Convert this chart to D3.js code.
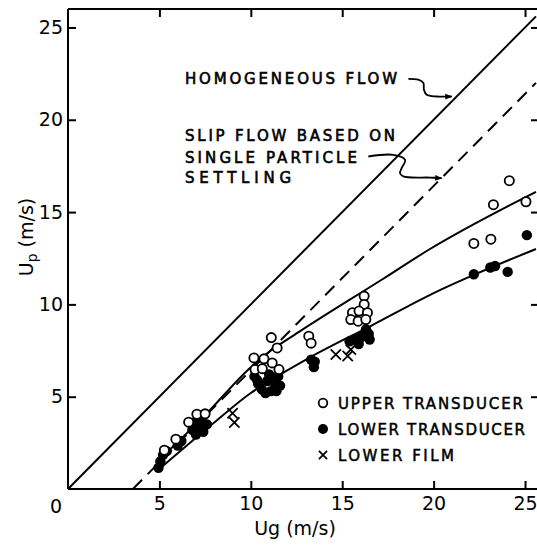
<!DOCTYPE html>
<html>
<head>
<meta charset="utf-8">
<script src="https://cdn.jsdelivr.net/npm/d3@7"></script>
<style>
  body { margin: 0; background: #fff; }
  text { font-family: "DejaVu Sans", sans-serif; fill: #000; }
</style>
</head>
<body>
<div id="chart"></div>
<script>
// ------------ values
var xTicks = [5, 10, 15, 20, 25];
var yTicks = [5, 10, 15, 20, 25];

// open circles
var upperUg = [5.27, 5.9, 6.6, 7.05, 7.5, 10.17, 10.72, 10.23, 10.63, 11.17, 11.54, 11.12, 11.44,
               13.17, 13.3, 16.2, 16.2, 15.56, 15.92, 16.38, 15.47, 15.87, 16.29,
               22.2, 23.13, 23.27, 24.14, 25.05];
var upperUp = [2.1, 2.7, 3.62, 4.05, 4.07, 7.1, 7.05, 6.47, 6.52, 6.83, 6.47, 8.2, 7.64,
               8.28, 7.9, 10.45, 10.0, 9.55, 9.64, 9.55, 9.18, 9.09, 9.18,
               13.3, 13.53, 15.4, 16.7, 15.56];

// filled circles
var lowerUg = [4.95, 5.05, 5.2, 5.4, 6.0, 6.2, 6.8, 7.0, 7.2, 7.4, 7.6, 7.3, 6.9,
               10.2, 10.4, 10.6, 10.9, 11.1, 11.3, 11.5, 10.8, 11.6, 10.35, 11.0, 11.4,
               13.3, 13.45, 13.5, 15.4, 15.7, 16.0, 16.2, 16.45, 16.3, 15.9, 16.5,
               22.2, 23.1, 23.36, 24.05, 25.1];
var lowerUp = [1.15, 1.5, 1.85, 2.05, 2.35, 2.6, 3.2, 2.95, 3.4, 3.1, 3.5, 3.75, 3.6,
               6.1, 5.7, 5.4, 5.85, 5.3, 5.75, 6.1, 5.2, 5.6, 5.9, 6.2, 5.3,
               7.0, 6.6, 6.9, 8.0, 8.1, 8.2, 8.3, 8.4, 8.65, 7.85, 8.1,
               11.63, 12.0, 12.08, 11.76, 13.75];

// crosses
var filmUg = [9.0, 9.1, 14.65, 15.3, 15.47];
var filmUp = [4.1, 3.6, 7.28, 7.2, 7.55];

// reference lines and fitted curves
var homogeneousUg = [0, 25.6];
var homogeneousUp = [0, 25.6];
var slipUg = [3.55, 25.6];
var slipUp = [0, 22.0];
var upperFitUg = [4.9, 7.5, 10.0, 11.1, 12.7, 17.2, 19.8, 25.6];
var upperFitUp = [1.5, 4.0, 6.6, 7.5, 8.55, 11.36, 13.0, 16.1];
var lowerFitUg = [4.9, 8.0, 10.0, 11.1, 13.0, 16.5, 20.4, 22.2, 25.6];
var lowerFitUp = [1.0, 3.6, 5.2, 5.9, 7.0, 8.8, 10.8, 11.6, 13.0];

// leader lines of the two notes
var homLeaderUg = [18.62, 19.16, 19.44, 19.47, 19.62, 20.17, 20.99];
var homLeaderUp = [22.22, 22.17, 21.99, 21.63, 21.35, 21.26, 21.26];
var slipLeaderUg = [16.43, 17.8, 18.44, 18.25, 18.16, 18.34, 19.8, 20.44];
var slipLeaderUp = [18.01, 18.1, 17.83, 17.38, 17.11, 16.93, 16.87, 16.84];

var legendLabels = ["UPPER TRANSDUCER", "LOWER TRANSDUCER", "LOWER FILM"];

// ------------ svg
var width = 537, height = 548;
var svg = d3.select("#chart").append("svg")
  .attr("width", width)
  .attr("height", height);

var x = d3.scaleLinear().domain([0, 25.6]).range([68, 536]);
var y = d3.scaleLinear().domain([0, 26.0]).range([489, 9]);

function pairs(a, b) { return a.map(function(v, i) { return [v, b[i]]; }); }

svg.append("defs").append("marker")
  .attr("id", "arrow")
  .attr("viewBox", "0 0 10 10")
  .attr("refX", 9).attr("refY", 5)
  .attr("markerWidth", 4).attr("markerHeight", 4)
  .attr("orient", "auto")
  .append("path")
  .attr("d", "M0,1L10,5L0,9z")
  .attr("fill", "#000");

// ------------ axes, ticks inside on all four sides
var axisFont = 19;
var bottomAxis = svg.append("g")
  .attr("transform", "translate(0," + y(0) + ")")
  .call(d3.axisBottom(x).tickValues(xTicks).tickSizeInner(-8).tickSizeOuter(0).tickPadding(8));
var leftAxis = svg.append("g")
  .attr("transform", "translate(" + x(0) + ",0)")
  .call(d3.axisLeft(y).tickValues(yTicks).tickSizeInner(-8).tickSizeOuter(0).tickPadding(5));
var topAxis = svg.append("g")
  .attr("transform", "translate(0," + y(26.0) + ")")
  .call(d3.axisTop(x).tickValues(xTicks).tickSizeInner(-8).tickSizeOuter(0).tickFormat(""));
var rightAxis = svg.append("g")
  .attr("transform", "translate(539,0)")
  .call(d3.axisRight(y).tickValues(yTicks).tickSizeInner(-8).tickSizeOuter(0).tickFormat(""));

topAxis.select(".domain").attr("d", "M" + x(0) + ",0H" + width);
leftAxis.select(".domain").attr("d", "M0," + y(0) + "V" + y(26.0));
bottomAxis.select(".domain").attr("d", "M" + x(0) + ",0H" + width);

svg.selectAll(".domain, .tick line")
  .attr("stroke", "#000")
  .attr("stroke-width", 2);
svg.selectAll(".tick text")
  .attr("font-size", axisFont)
  .attr("font-family", "DejaVu Sans, sans-serif");

// shared origin label
svg.append("text")
  .attr("x", x(0) - 12)
  .attr("y", y(0) + 24)
  .attr("text-anchor", "middle")
  .attr("font-size", axisFont)
  .text("0");

// axis titles
svg.append("text")
  .attr("x", 295)
  .attr("y", 535)
  .attr("text-anchor", "middle")
  .attr("font-size", axisFont)
  .text("Ug (m/s)");

var yTitle = svg.append("text")
  .attr("transform", "translate(33,237) rotate(-90)")
  .attr("text-anchor", "middle")
  .attr("font-size", axisFont);
yTitle.append("tspan").text("U");
yTitle.append("tspan").attr("font-size", 14).attr("dy", 4).text("p");
yTitle.append("tspan").attr("dy", -4).text(" (m/s)");

// ------------ lines
var line = d3.line().x(function(d) { return x(d[0]); }).y(function(d) { return y(d[1]); });
var smooth = d3.line().curve(d3.curveMonotoneX)
  .x(function(d) { return x(d[0]); }).y(function(d) { return y(d[1]); });
var wiggle = d3.line().curve(d3.curveCatmullRom)
  .x(function(d) { return x(d[0]); }).y(function(d) { return y(d[1]); });

svg.append("path").datum(pairs(homogeneousUg, homogeneousUp))
  .attr("d", line).attr("fill", "none").attr("stroke", "#000").attr("stroke-width", 2);
svg.append("path").datum(pairs(slipUg, slipUp))
  .attr("d", line).attr("fill", "none").attr("stroke", "#000").attr("stroke-width", 2)
  .attr("stroke-dasharray", "13,8");
svg.append("path").datum(pairs(upperFitUg, upperFitUp))
  .attr("d", smooth).attr("fill", "none").attr("stroke", "#000").attr("stroke-width", 2);
svg.append("path").datum(pairs(lowerFitUg, lowerFitUp))
  .attr("d", smooth).attr("fill", "none").attr("stroke", "#000").attr("stroke-width", 2);

svg.append("path").datum(pairs(homLeaderUg, homLeaderUp))
  .attr("d", wiggle).attr("fill", "none").attr("stroke", "#000").attr("stroke-width", 1.8)
  .attr("marker-end", "url(#arrow)");
svg.append("path").datum(pairs(slipLeaderUg, slipLeaderUp))
  .attr("d", wiggle).attr("fill", "none").attr("stroke", "#000").attr("stroke-width", 1.8)
  .attr("marker-end", "url(#arrow)");

// ------------ notes (hand lettering is heavier, so add a thin stroke)
var noteFont = 15;
function note(txt, px, py, len) {
  svg.append("text")
    .attr("x", px).attr("y", py)
    .attr("font-size", noteFont)
    .attr("stroke", "#000")
    .attr("stroke-width", 0.6)
    .attr("textLength", len)
    .attr("lengthAdjust", "spacing")
    .text(txt);
}
note("HOMOGENEOUS FLOW", 185, 84, 212);
note("SLIP FLOW BASED ON", 185, 141, 210);
note("SINGLE PARTICLE", 185, 163, 172);
note("SETTLING", 185, 183, 106);

// ------------ points
var symX = d3.symbol().type(d3.symbolX).size(70);

svg.append("g").selectAll("circle")
  .data(pairs(lowerUg, lowerUp))
  .enter().append("circle")
  .attr("cx", function(d) { return x(d[0]); })
  .attr("cy", function(d) { return y(d[1]); })
  .attr("r", 5.2)
  .attr("fill", "#000");

svg.append("g").selectAll("circle")
  .data(pairs(upperUg, upperUp))
  .enter().append("circle")
  .attr("cx", function(d) { return x(d[0]); })
  .attr("cy", function(d) { return y(d[1]); })
  .attr("r", 4.6)
  .attr("fill", "#fff")
  .attr("stroke", "#000")
  .attr("stroke-width", 1.8);

svg.append("g").selectAll("path")
  .data(pairs(filmUg, filmUp))
  .enter().append("path")
  .attr("transform", function(d) { return "translate(" + x(d[0]) + "," + y(d[1]) + ")"; })
  .attr("d", symX)
  .attr("fill", "none")
  .attr("stroke", "#000")
  .attr("stroke-width", 1.8);

// ------------ legend
var legend = svg.append("g").attr("transform", "translate(323,403)");
var legendLen = [185, 187, 116];
legendLabels.forEach(function(lab, i) {
  var row = legend.append("g").attr("transform", "translate(0," + (i * 26) + ")");
  if (i == 0) {
    row.append("circle").attr("r", 4.3).attr("fill", "#fff").attr("stroke", "#000").attr("stroke-width", 1.8);
  } else if (i == 1) {
    row.append("circle").attr("r", 5).attr("fill", "#000");
  } else {
    row.append("path").attr("d", d3.symbol().type(d3.symbolX).size(45)).attr("fill", "none")
      .attr("stroke", "#000").attr("stroke-width", 1.8);
  }
  row.append("text")
    .attr("x", 15).attr("y", 6)
    .attr("font-size", 15)
    .attr("stroke", "#000")
    .attr("stroke-width", 0.5)
    .attr("textLength", legendLen[i])
    .attr("lengthAdjust", "spacing")
    .text(lab);
});
</script>
</body>
</html>
